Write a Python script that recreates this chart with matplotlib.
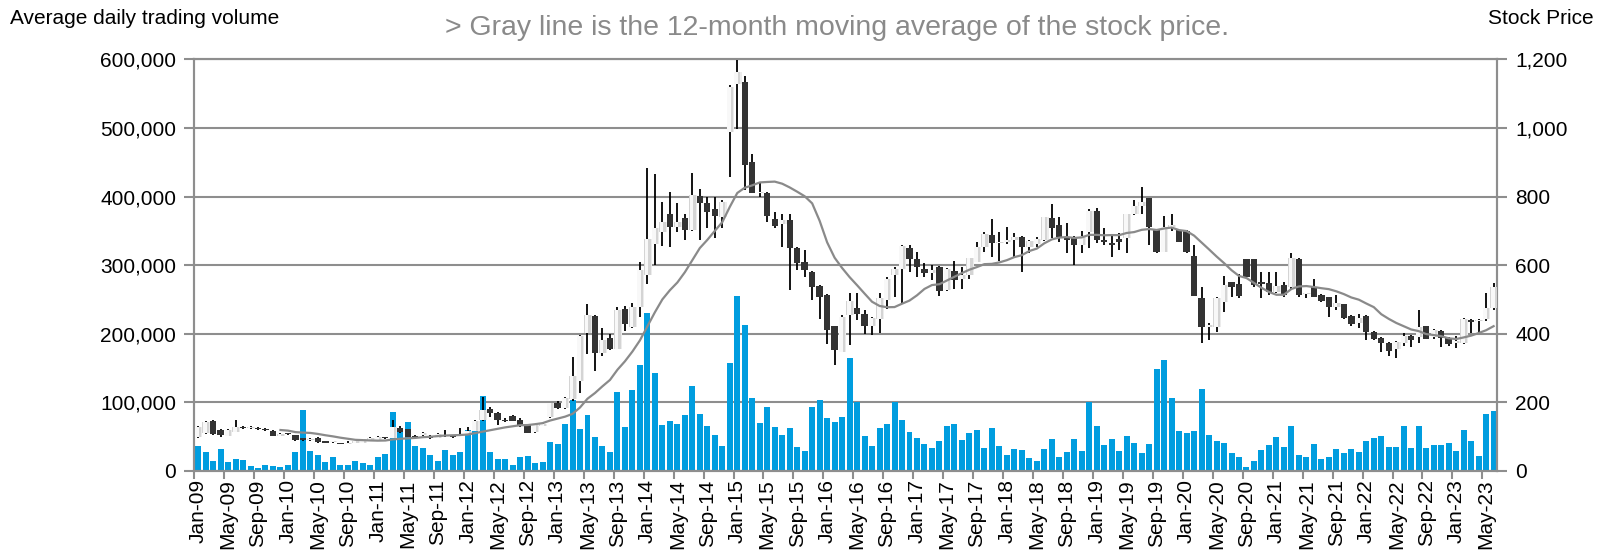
import numpy as np
import pandas as pd
import matplotlib
matplotlib.use("Agg")
import matplotlib.pyplot as plt
from matplotlib.ticker import FuncFormatter

plt.rcParams['font.family'] = ['Liberation Sans', 'DejaVu Sans']

# monthly categories, Jan-09 .. Jun-23
months = pd.date_range('2009-01-01', periods=174, freq='MS').strftime('%b-%y').tolist()

# monthly OHLC of the stock price
opens = [100, 110, 146, 119, 103, 115, 128, 124, 126, 122, 118, 103,
         108, 105, 95, 90, 97, 87, 84, 82, 80, 83, 83, 88,
         90, 96, 97, 126, 121, 100, 105, 103, 97, 105, 103, 103,
         105, 118, 149, 180, 170, 149, 160, 149, 134, 115, 132, 156,
         199, 183, 209, 262, 402, 452, 344, 389, 357, 472, 421, 479,
         570, 663, 697, 750, 710, 736, 702, 802, 780, 765, 741, 988,
         1129, 1134, 901, 809, 810, 734, 720, 731, 650, 610, 580, 539,
         513, 422, 348, 454, 474, 459, 422, 442, 498, 571, 590, 649,
         619, 590, 576, 595, 527, 583, 560, 570, 610, 653, 687, 665,
         668, 673, 682, 653, 663, 673, 736, 716, 683, 680, 659, 697,
         757, 673, 665, 677, 680, 750, 773, 796, 702, 639, 710, 702,
         699, 626, 503, 420, 420, 493, 550, 545, 618, 618, 551, 547,
         522, 541, 535, 618, 515, 535, 513, 506, 477, 486, 452, 430,
         452, 406, 389, 374, 357, 372, 393, 391, 422, 390, 408, 389,
         372, 372, 440, 437, 444, 474]
highs = [130, 146, 148, 121, 121, 148, 131, 130, 128, 124, 119, 110,
         110, 106, 97, 95, 99, 88, 87, 83, 86, 86, 93, 98,
         101, 97, 150, 132, 123, 104, 115, 104, 110, 120, 105, 124,
         127, 150, 216, 187, 171, 155, 162, 153, 136, 136, 139, 199,
         204, 217, 331, 397, 487, 454, 416, 400, 478, 480, 489, 610,
         882, 865, 783, 814, 780, 750, 869, 823, 799, 799, 790, 1125,
         1199, 1150, 925, 843, 812, 755, 750, 750, 653, 644, 583, 541,
         515, 424, 454, 519, 519, 470, 450, 519, 566, 594, 658, 658,
         639, 605, 600, 597, 592, 613, 595, 620, 668, 697, 734, 697,
         712, 694, 684, 672, 683, 741, 777, 741, 723, 684, 700, 765,
         767, 709, 684, 694, 750, 790, 828, 796, 702, 744, 750, 702,
         701, 658, 537, 430, 508, 568, 552, 575, 618, 618, 580, 580,
         580, 551, 636, 620, 520, 561, 515, 508, 513, 488, 454, 459,
         454, 408, 391, 376, 380, 403, 395, 469, 424, 415, 410, 391,
         393, 445, 442, 442, 519, 547]
lows = [95, 108, 105, 98, 101, 113, 122, 122, 120, 117, 101, 101,
        104, 88, 87, 88, 83, 81, 83, 78, 78, 82, 82, 87,
        89, 93, 95, 110, 98, 97, 103, 92, 96, 98, 97, 102,
        104, 116, 147, 158, 134, 143, 145, 129, 110, 112, 130, 154,
        180, 181, 205, 227, 340, 291, 335, 353, 355, 407, 418, 450,
        545, 600, 655, 653, 697, 673, 700, 673, 707, 678, 707, 857,
        998, 818, 809, 800, 726, 707, 653, 527, 585, 566, 498, 442,
        369, 309, 346, 367, 440, 398, 396, 401, 471, 508, 488, 580,
        566, 566, 556, 510, 525, 529, 529, 561, 608, 639, 624, 612,
        663, 624, 580, 634, 653, 670, 678, 668, 634, 600, 634, 650,
        665, 658, 624, 644, 634, 745, 750, 658, 634, 637, 700, 666,
        636, 510, 372, 382, 406, 464, 508, 503, 566, 537, 503, 513,
        520, 508, 530, 508, 505, 506, 493, 450, 469, 442, 422, 418,
        382, 383, 348, 336, 328, 364, 362, 372, 384, 385, 362, 364,
        358, 370, 401, 403, 438, 470]
closes = [128, 142, 107, 105, 119, 129, 124, 126, 122, 120, 103, 108,
          107, 90, 90, 93, 84, 83, 85, 80, 83, 84, 92, 97,
          100, 95, 128, 115, 100, 98, 110, 95, 107, 103, 100, 107,
          118, 145, 178, 168, 149, 145, 147, 134, 112, 134, 137, 197,
          185, 214, 276, 392, 455, 344, 383, 355, 470, 429, 479, 586,
          676, 707, 726, 712, 726, 702, 804, 780, 755, 744, 785, 1119,
          1163, 891, 809, 814, 743, 714, 731, 650, 605, 585, 537, 508,
          411, 352, 450, 495, 459, 422, 445, 503, 561, 590, 655, 617,
          595, 576, 585, 525, 590, 556, 570, 620, 653, 692, 665, 668,
          673, 683, 653, 670, 675, 741, 707, 683, 673, 659, 685, 757,
          673, 668, 660, 668, 750, 773, 785, 712, 639, 712, 717, 668,
          639, 510, 420, 425, 503, 542, 537, 510, 566, 542, 546, 522,
          540, 513, 620, 513, 517, 508, 496, 477, 490, 445, 428, 445,
          406, 386, 372, 350, 375, 393, 382, 420, 386, 412, 389, 370,
          380, 442, 435, 440, 474, 535]

# average daily trading volume, thousands of shares
volume_k = [36, 28, 15, 32, 13, 17, 16, 7, 5, 8, 7, 6,
            8, 27, 89, 29, 23, 13, 21, 8, 9, 15, 11, 9,
            20, 25, 86, 57, 72, 37, 34, 23, 14, 31, 23, 27,
            60, 68, 109, 27, 18, 17, 9, 20, 22, 12, 13, 42,
            40, 68, 103, 61, 82, 50, 36, 28, 115, 64, 118, 155,
            230, 143, 67, 73, 68, 81, 124, 83, 65, 52, 37, 157,
            255, 213, 107, 70, 93, 64, 52, 63, 35, 29, 93, 103,
            77, 72, 79, 165, 100, 51, 36, 63, 69, 100, 74, 57,
            48, 39, 33, 44, 66, 69, 45, 56, 60, 33, 62, 36,
            23, 32, 31, 19, 15, 32, 46, 20, 27, 47, 29, 100,
            66, 38, 47, 29, 51, 41, 26, 39, 148, 162, 107, 58,
            56, 59, 119, 53, 44, 41, 26, 20, 6, 15, 31, 38,
            49, 35, 66, 24, 21, 39, 18, 20, 32, 26, 32, 28,
            44, 48, 51, 35, 35, 66, 33, 66, 34, 38, 38, 41,
            29, 60, 43, 22, 83, 88]

volume = np.array(volume_k) * 1000
o = np.array(opens)
h = np.array(highs)
l = np.array(lows)
c = np.array(closes)
ma12 = pd.Series(closes).rolling(12).mean()

x = np.arange(len(months))
grid_col = '#8e8e8e'

fig = plt.figure(figsize=(15.97, 5.56), dpi=100)
ax = fig.add_axes([0.1217, 0.1529, 0.8159, 0.7405])

# volume bars on the left axis
ax.bar(x, volume, width=0.8, color='#009ddf', zorder=2)
ax.set_xlim(-0.5, len(months) - 0.5)
ax.set_ylim(0, 600000)
ax.set_yticks(range(0, 600001, 100000))
ax.yaxis.set_major_formatter(FuncFormatter(lambda v, p: f'{int(v):,}'))
ax.grid(axis='y', color=grid_col, lw=1.5, zorder=0)
ax.set_axisbelow(True)
for s in ax.spines.values():
    s.set_color(grid_col)
    s.set_linewidth(1.5)

ax.set_xticks(x[::4])
ax.set_xticklabels(months[::4], rotation=90, fontsize=15)
ax.set_xticks(x[::4] - 0.5, minor=True)
ax.tick_params(axis='x', which='major', length=0, pad=6)
ax.tick_params(axis='x', which='minor', length=6, width=1.5, color=grid_col)
ax.tick_params(axis='y', length=7, width=1.5, color=grid_col, labelsize=15, pad=6)

# candlesticks + moving average on the right axis
ax2 = ax.twinx()
ax2.set_ylim(0, 1200)
ax2.set_yticks(range(0, 1201, 200))
ax2.yaxis.set_major_formatter(FuncFormatter(lambda v, p: f'{int(v):,}'))
ax2.tick_params(axis='y', length=7, width=1.5, color=grid_col, labelsize=15, pad=6)
for s in ax2.spines.values():
    s.set_color(grid_col)
    s.set_linewidth(1.5)

ax2.vlines(x, l, h, color='black', lw=1.3, zorder=3)
up = c >= o
body_lo = np.minimum(o, c)
body_h = np.maximum(np.abs(c - o), 3)
# rising months: soft grey body with a lighter left side
ax2.bar(x[up] + 0.08, body_h[up], bottom=body_lo[up], width=1.0,
        color='#ececec', zorder=4)
ax2.bar(x[up], body_h[up], bottom=body_lo[up], width=0.85,
        color='#d4d4d4', zorder=4)
ax2.bar(x[up] - 0.12, body_h[up], bottom=body_lo[up], width=0.5,
        color='#f8f8f8', zorder=4)
# falling months: dark body
ax2.bar(x[~up], body_h[~up], bottom=body_lo[~up], width=0.85,
        color='#333333', zorder=4)
ax2.plot(x, ma12, color='#8a8a8a', lw=1.6, zorder=5)

fig.text(0.006, 0.967, 'Average daily trading volume', fontsize=15, ha='left', va='center')
fig.text(0.998, 0.967, 'Stock Price', fontsize=15, ha='right', va='center')
fig.text(0.524, 0.9505, '> Gray line is the 12-month moving average of the stock price.',
         fontsize=20.5, color='#8a8a8a', ha='center', va='center')

fig.savefig('out.png', dpi=100)
